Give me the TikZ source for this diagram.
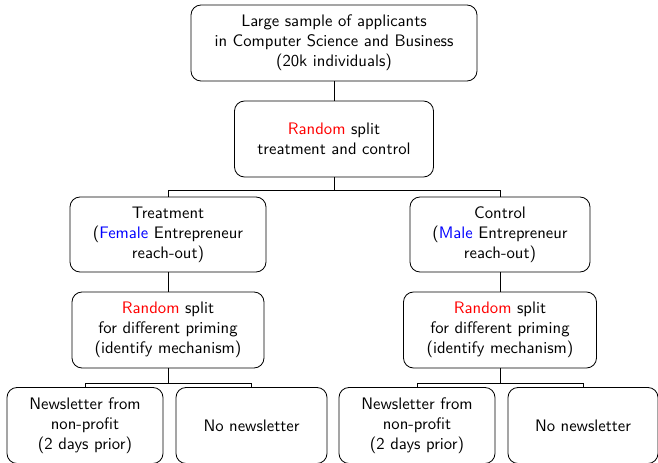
\documentclass[tikz,border=0pt]{standalone}
\renewcommand{\familydefault}{\sfdefault}
\begin{document}
\begin{tikzpicture}[x=0.6pt,y=-0.6pt,
  box/.style={draw,rounded corners=6pt,align=center,inner sep=0pt,font=\sffamily,line width=0.5pt},
  edge/.style={line width=0.5pt}]
\path[use as bounding box] (0,0) rectangle (658,462);
\node[box,minimum width=171.6pt,minimum height=45.6pt] (top) at (334,43) {Large sample of applicants\\in Computer Science and Business\\(20k individuals)};
\node[box,minimum width=119.4pt,minimum height=45.6pt] (split) at (334,139) {\textcolor{red}{Random} split\\treatment and control};
\node[box,minimum width=117.6pt,minimum height=45pt] (treat) at (168,234.5) {Treatment\\(\textcolor{blue}{Female} Entrepreneur\\reach-out)};
\node[box,minimum width=108pt,minimum height=45pt] (ctrl) at (500,234.5) {Control\\(\textcolor{blue}{Male} Entrepreneur\\reach-out)};
\node[box,minimum width=115.2pt,minimum height=45.6pt] (sl) at (168,330) {\textcolor{red}{Random} split\\for different priming\\(identify mechanism)};
\node[box,minimum width=115.8pt,minimum height=45.6pt] (sr) at (500,330) {\textcolor{red}{Random} split\\for different priming\\(identify mechanism)};
\node[box,minimum width=93.6pt,minimum height=45.6pt] (nl1) at (85,425.5) {Newsletter from\\non-profit\\(2 days prior)};
\node[box,minimum width=90.6pt,minimum height=45.6pt] (no1) at (251.5,425.5) {No newsletter};
\node[box,minimum width=93.6pt,minimum height=45.6pt] (nl2) at (417,425.5) {Newsletter from\\non-profit\\(2 days prior)};
\node[box,minimum width=90pt,minimum height=45.6pt] (no2) at (583,425.5) {No newsletter};
\draw[edge] (top.south) -- (split.north);
\draw[edge] (split.south) -- ++(0,13) -| (treat.north);
\draw[edge] (split.south) -- ++(0,13) -| (ctrl.north);
\draw[edge] (treat.south) -- (sl.north);
\draw[edge] (ctrl.south) -- (sr.north);
\draw[edge] (sl.south) -- ++(0,15) -| (nl1.north);
\draw[edge] (sl.south) -- ++(0,15) -| (no1.north);
\draw[edge] (sr.south) -- ++(0,15) -| (nl2.north);
\draw[edge] (sr.south) -- ++(0,15) -| (no2.north);
\end{tikzpicture}
\end{document}
